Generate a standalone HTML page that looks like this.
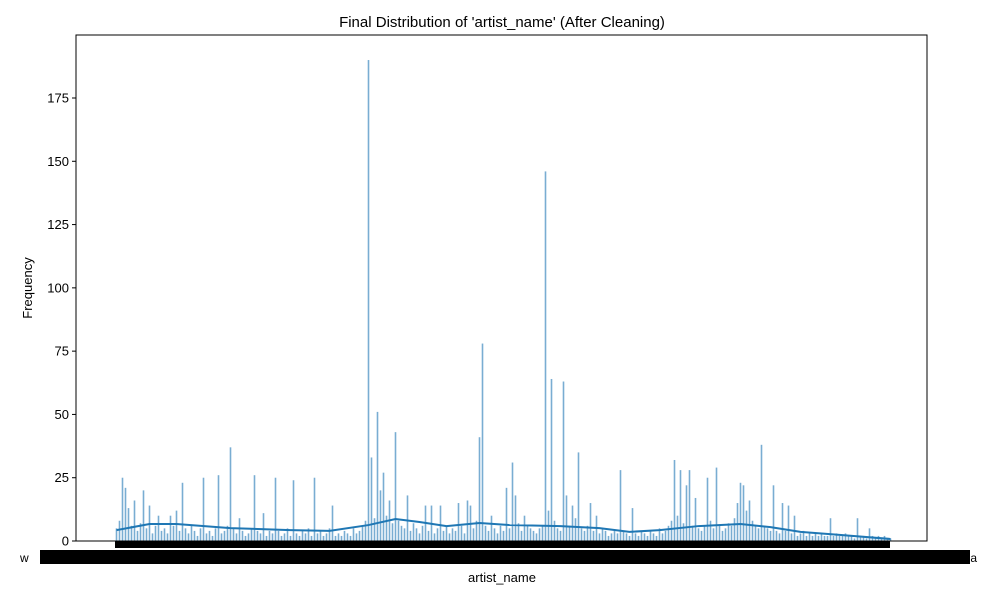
<!DOCTYPE html>
<html><head><meta charset="utf-8"><style>
body{margin:0;background:#fff;}
svg{display:block;font-family:"Liberation Sans","DejaVu Sans",sans-serif;}
</style></head><body>
<svg id="chart" width="1000" height="600">
<rect x="0" y="0" width="1000" height="600" fill="#fff"/>
<text x="502" y="27" text-anchor="middle" font-size="15">Final Distribution of 'artist_name' (After Cleaning)</text>
<g id="bars"></g>
<g id="yaxis"></g>
<path id="kde" fill="none" stroke="#1f77b4" stroke-width="2"/>
<rect x="76" y="35" width="851" height="506" fill="none" stroke="#000" stroke-width="1"/>
<rect x="115" y="541" width="775" height="7" fill="#000"/>
<rect x="40" y="550" width="930" height="14" fill="#000"/>
<text x="20" y="562" font-size="12">w</text>
<text x="977" y="562" font-size="12" text-anchor="end">a</text>
<text x="502" y="582" text-anchor="middle" font-size="13">artist_name</text>
<text x="32" y="288" text-anchor="middle" font-size="13" transform="rotate(-90 32 288)">Frequency</text>
</svg>
<script>
const counts = [5,8,25,21,13,6,16,4,7,20,5,14,3,6,10,4,5,3,10,6,
12,4,23,5,3,6,4,2,5,25,3,4,2,5,26,3,4,6,37,5,
3,9,4,2,3,5,26,4,3,11,2,4,3,25,4,2,3,5,2,24,
3,2,4,3,5,2,25,3,4,2,3,5,14,2,3,2,4,3,2,5,
3,4,6,8,190,33,9,51,20,27,10,16,7,43,8,6,5,18,4,7,
5,3,6,14,4,14,3,5,14,4,6,3,5,4,15,6,3,16,14,5,
8,41,78,6,4,10,5,3,6,4,21,5,31,18,7,4,10,6,5,4,
3,5,6,146,12,64,8,5,4,63,18,6,14,9,35,5,4,6,15,4,
10,3,5,4,2,3,4,3,28,4,3,2,13,3,2,4,3,2,4,3,
2,5,3,4,6,8,32,10,28,7,22,28,6,17,5,4,6,25,8,5,
29,6,4,5,7,6,9,15,23,22,12,16,8,6,5,38,6,5,4,22,
4,3,15,4,14,3,10,2,3,4,2,3,2,3,2,3,2,2,9,2,
3,2,2,3,2,2,1,9,2,2,1,5,2,1,2,1,2,1,1];
const yTicks = [0,25,50,75,100,125,150,175];
const kdeCat = [0,11,20,38,58,71,84,93,101,110,121,131,148,161,171,181,194,208,218,228,241,258];
const kdeVal = [4.3,6.7,6.7,5.1,4.3,4.0,6.3,8.7,7.5,5.9,7.1,6.3,5.9,5.1,3.6,4.3,5.9,6.7,5.5,3.6,2.4,0.8];

const NS="http://www.w3.org/2000/svg";
const x0=115, bw=3, y0=541, pxPer=(541-98)/175;
const X=i=>x0+i*bw;
const Y=v=>y0-v*pxPer;
const bars=document.getElementById('bars');
counts.forEach((v,i)=>{
  const r=document.createElementNS(NS,'rect');
  r.setAttribute('x',X(i)+0.7);
  r.setAttribute('y',Y(v));
  r.setAttribute('width',1.6);
  r.setAttribute('height',y0-Y(v));
  r.setAttribute('fill','rgba(31,119,180,0.6)');
  
  
  bars.appendChild(r);
});
const ya=document.getElementById('yaxis');
yTicks.forEach(t=>{
  const l=document.createElementNS(NS,'line');
  l.setAttribute('x1',72);l.setAttribute('x2',76);
  l.setAttribute('y1',Y(t));l.setAttribute('y2',Y(t));
  l.setAttribute('stroke','#000');
  
  
  ya.appendChild(l);
  const tx=document.createElementNS(NS,'text');
  tx.setAttribute('x',69);tx.setAttribute('y',Y(t)+4.5);
  tx.setAttribute('text-anchor','end');tx.setAttribute('font-size','13');
  tx.textContent=t;
  
  
  ya.appendChild(tx);
});
let d='';
kdeCat.forEach((c,i)=>{d+=(i?'L':'M')+(X(c)+1.5)+','+Y(kdeVal[i]);});
document.getElementById('kde').setAttribute('d',d);
</script>
</body></html>
